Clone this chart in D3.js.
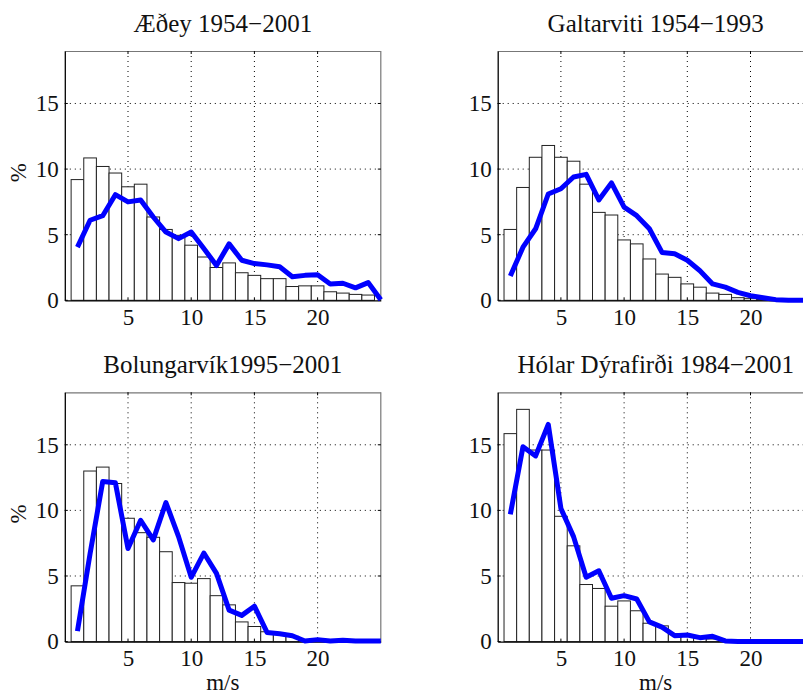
<!DOCTYPE html>
<html><head><meta charset="utf-8">
<script src="https://cdn.jsdelivr.net/npm/d3@7"></script>
<style>body{margin:0;background:#fff}svg{display:block}
text{font-family:"Liberation Serif","Times New Roman","DejaVu Serif",serif !important;}</style>
</head><body>
<svg id="chart" width="803" height="696"></svg>
<script>
const titles = ["Æðey 1954−2001","Galtarviti 1954−1993","Bolungarvík1995−2001","Hólar Dýrafirði 1984−2001"];
const binCenters = d3.range(1, 25);     // 1..24
const lineX = d3.range(1, 26);          // 1..25
const xTicks = [5,10,15,20];
const yTicks = [0,5,10,15];

const bars1 = [9.2,10.85,10.2,9.7,8.65,8.85,6.35,5.4,4.95,4.2,3.3,2.5,2.85,2.1,1.9,1.65,1.65,1.05,1.1,1.1,0.65,0.55,0.45,0.4];
const line1 = [4.05,6.1,6.45,8.05,7.5,7.65,6.35,5.2,4.7,5.2,3.95,2.65,4.3,3.05,2.8,2.7,2.55,1.8,1.9,1.95,1.25,1.3,0.95,1.35,0.05];
const bars2 = [5.4,8.6,10.9,11.8,10.9,10.6,8.85,6.7,6.5,4.6,4.3,3.15,2.0,1.75,1.25,1.0,0.55,0.45,0.2,0.15,0.08,0.04,0.02,0.01];
const line2 = [1.85,4.05,5.45,8.1,8.5,9.4,9.6,7.65,8.95,7.1,6.45,5.45,3.65,3.55,3.05,2.25,1.25,1.0,0.6,0.35,0.2,0.05,0,0,0];
const bars3 = [4.25,13.0,13.3,12.05,9.4,8.3,7.95,6.85,4.5,4.45,4.8,3.5,2.8,1.5,1.15,0.75,0.6,0.4,0.12,0.08,0.05,0.03,0.02,0.02];
const line3 = [0.8,6.7,12.2,12.1,7.1,9.25,7.75,10.6,8.0,4.9,6.75,5.2,2.4,2.0,2.7,0.7,0.6,0.45,0.05,0.15,0.05,0.1,0.05,0.05,0.05];
const bars4 = [15.85,17.7,14.6,14.6,9.55,7.3,4.35,4.05,2.7,3.1,2.35,1.4,1.2,0.6,0.4,0.25,0.2,0.05,0.03,0.02,0.01,0.01,0.01,0.01];
const line4 = [9.7,14.85,14.15,16.55,10.15,8.0,4.9,5.4,3.3,3.5,3.25,1.5,1.1,0.45,0.5,0.3,0.4,0.05,0,0,0,0,0,0,0];

const barsAll = [bars1,bars2,bars3,bars4];
const linesAll = [line1,line2,line3,line4];

const svg = d3.select("#chart");
const font = "Liberation Serif";
const lefts = [64.8, 497.7];
const tops = [51, 392.3];
const W = 316, H = 249.3;

for (let p = 0; p < 4; p++) {
  const col = p % 2, row = Math.floor(p / 2);
  const g = svg.append("g").attr("transform", `translate(${lefts[col]},${tops[row]})`);
  const x = d3.scaleLinear().domain([0,25]).range([0,W]);
  const y = d3.scaleLinear().domain([0,19]).range([H,0]);

  // grid
  g.selectAll(".gx").data(xTicks).join("line")
    .attr("x1", d=>x(d)).attr("x2", d=>x(d)).attr("y1",0).attr("y2",H)
    .attr("stroke","#000").attr("stroke-width",1).attr("stroke-dasharray","1,4");
  g.selectAll(".gy").data(yTicks.filter(d=>d>0)).join("line")
    .attr("y1", d=>y(d)).attr("y2", d=>y(d)).attr("x1",0).attr("x2",W)
    .attr("stroke","#000").attr("stroke-width",1).attr("stroke-dasharray","1,4");

  // bars
  g.selectAll(".bar").data(binCenters.map((c,i)=>({c, v: barsAll[p][i]}))).join("rect")
    .attr("x", d=>x(d.c-0.5)).attr("width", x(1)-x(0))
    .attr("y", d=>y(d.v)).attr("height", d=>H - y(d.v))
    .attr("fill","#fff").attr("stroke","#222").attr("stroke-width",1);

  // frame
  g.append("line").attr("x1",0).attr("x2",W).attr("y1",0.5).attr("y2",0.5).attr("stroke","#777").attr("stroke-width",1.2);
  g.append("line").attr("x1",W).attr("x2",W).attr("y1",0).attr("y2",H).attr("stroke","#777").attr("stroke-width",1.2);

  // inner ticks
  xTicks.forEach(t=>{
    g.append("line").attr("x1",x(t)).attr("x2",x(t)).attr("y1",0).attr("y2",3).attr("stroke","#000");
    g.append("line").attr("x1",x(t)).attr("x2",x(t)).attr("y1",H).attr("y2",H-3).attr("stroke","#000");
  });
  yTicks.forEach(t=>{
    g.append("line").attr("y1",y(t)).attr("y2",y(t)).attr("x1",0).attr("x2",3).attr("stroke","#000");
    g.append("line").attr("y1",y(t)).attr("y2",y(t)).attr("x1",W).attr("x2",W-3).attr("stroke","#000");
  });

  // axes
  const ax = g.append("g").attr("transform",`translate(0,${H})`)
    .call(d3.axisBottom(x).tickValues(xTicks).tickSize(0).tickPadding(8).tickFormat(d3.format("d")));
  const ay = g.append("g")
    .call(d3.axisLeft(y).tickValues(yTicks).tickSize(0).tickPadding(6).tickFormat(d3.format("d")));
  [ax,ay].forEach(a=>{
    a.attr("font-family",font).attr("font-size",23);
    a.select(".domain").attr("stroke","#000").attr("stroke-width",1.3);
    a.selectAll("text").attr("fill","#111");
  });

  // blue line
  const lineGen = d3.line().x((d,i)=>x(lineX[i])).y(d=>y(d));
  g.append("path").datum(linesAll[p]).attr("d", lineGen)
    .attr("fill","none").attr("stroke","#0000ff").attr("stroke-width",5)
    .attr("stroke-linejoin","round").attr("stroke-linecap","butt");

  // title
  g.append("text").attr("x", W/2).attr("y", -19).attr("text-anchor","middle")
    .attr("font-family",font).attr("font-size",25).attr("fill","#111").text(titles[p]);

  if (col === 0) {
    g.append("text").attr("transform",`translate(${18-lefts[col]},${H/2 - 3}) rotate(-90)`)
      .attr("text-anchor","middle").attr("dominant-baseline","central")
      .attr("font-family",font).attr("font-size",23).attr("fill","#111").text("%");
  }
  if (row === 1) {
    g.append("text").attr("x", x(12.5)).attr("y", H + 48).attr("text-anchor","middle")
      .attr("font-family",font).attr("font-size",23).attr("fill","#111").text("m/s");
  }
}
</script>
</body></html>
